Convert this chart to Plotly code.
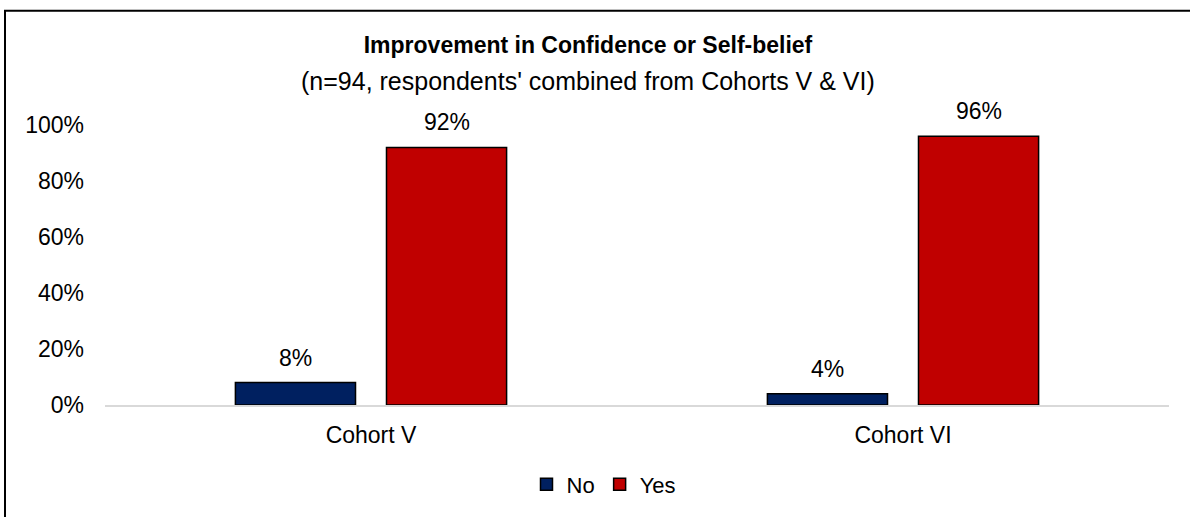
import plotly.graph_objects as go

# Survey results: share of respondents reporting improved confidence
cohorts = ["Cohort V", "Cohort VI"]
no_share = [0.08, 0.04]
yes_share = [0.92, 0.96]
series_names = ["No", "Yes"]
series_colors = ["#002060", "#C00000"]
y_ticks = [0, 0.2, 0.4, 0.6, 0.8, 1.0]
y_tick_labels = ["0%", "20%", "40%", "60%", "80%", "100%"]

FONT = "Liberation Sans, Arial, sans-serif"
W, H = 1190, 517
L, R, T, B = 105, 21, 125, 110
plot_w = W - L - R
plot_h = H - T - B


def px_to_paper_x(px):
    return (px - L) / plot_w


def px_to_paper_y(py):
    return (H - B - py) / plot_h


fig = go.Figure()
for name, vals, color in zip(series_names, [no_share, yes_share], series_colors):
    fig.add_trace(go.Bar(
        name=name,
        x=cohorts,
        y=vals,
        marker=dict(color=color, line=dict(color="#000000", width=1.5)),
        offsetgroup=name,
    ))

# value labels above each bar
annotations = []
n_series = len(series_names)
for si, vals in enumerate([no_share, yes_share]):
    for ci, v in enumerate(vals):
        annotations.append(dict(
            x=ci, y=v, xref="x", yref="y",
            text=f"{round(v * 100)}%",
            showarrow=False, yanchor="bottom",
            xshift=(si - (n_series - 1) / 2) * 151,
            yshift=10,
            font=dict(family=FONT, size=23, color="#000000"),
        ))

# subtitle line under the bold title
annotations.append(dict(
    x=px_to_paper_x(588), y=px_to_paper_y(81), xref="paper", yref="paper",
    text="(n=94, respondents' combined from Cohorts V & VI)",
    showarrow=False, xanchor="center", yanchor="middle",
    font=dict(family=FONT, size=25, color="#000000"),
))

fig.update_layout(
    width=W, height=H,
    margin=dict(l=L, r=R, t=T, b=B, pad=0),
    paper_bgcolor="#FFFFFF",
    plot_bgcolor="#FFFFFF",
    font=dict(family=FONT, size=23, color="#000000"),
    title=dict(
        text="<b>Improvement in Confidence or Self-belief</b>",
        x=588 / W, xanchor="center",
        y=1 - 45 / H, yanchor="middle",
        font=dict(family=FONT, size=23, color="#000000"),
    ),
    barmode="group",
    bargap=0.432,
    bargroupgap=0.205,
    showlegend=True,
    legend=dict(
        orientation="h",
        x=px_to_paper_x(604), xanchor="center",
        y=px_to_paper_y(487), yanchor="middle",
        font=dict(family=FONT, size=22, color="#000000"),
        itemwidth=30,
        bgcolor="rgba(0,0,0,0)",
    ),
    annotations=annotations,
    shapes=[dict(
        type="rect", xref="paper", yref="paper",
        x0=px_to_paper_x(5), x1=px_to_paper_x(W + 20),
        y0=px_to_paper_y(H + 20), y1=px_to_paper_y(10),
        line=dict(color="#000000", width=2),
        fillcolor="rgba(0,0,0,0)",
        layer="above",
    )],
)

fig.update_xaxes(
    showline=True, linecolor="#D9D9D9", linewidth=1.5,
    showgrid=False, zeroline=False, ticks="",
    ticklabelstandoff=9,
    tickfont=dict(family=FONT, size=23, color="#000000"),
)
fig.update_yaxes(
    range=[0, 1.0],
    tickvals=y_ticks, ticktext=y_tick_labels,
    showgrid=False, zeroline=False, showline=False, ticks="",
    ticklabelstandoff=20,
    tickfont=dict(family=FONT, size=23, color="#000000"),
)

fig.write_html("out.html")
